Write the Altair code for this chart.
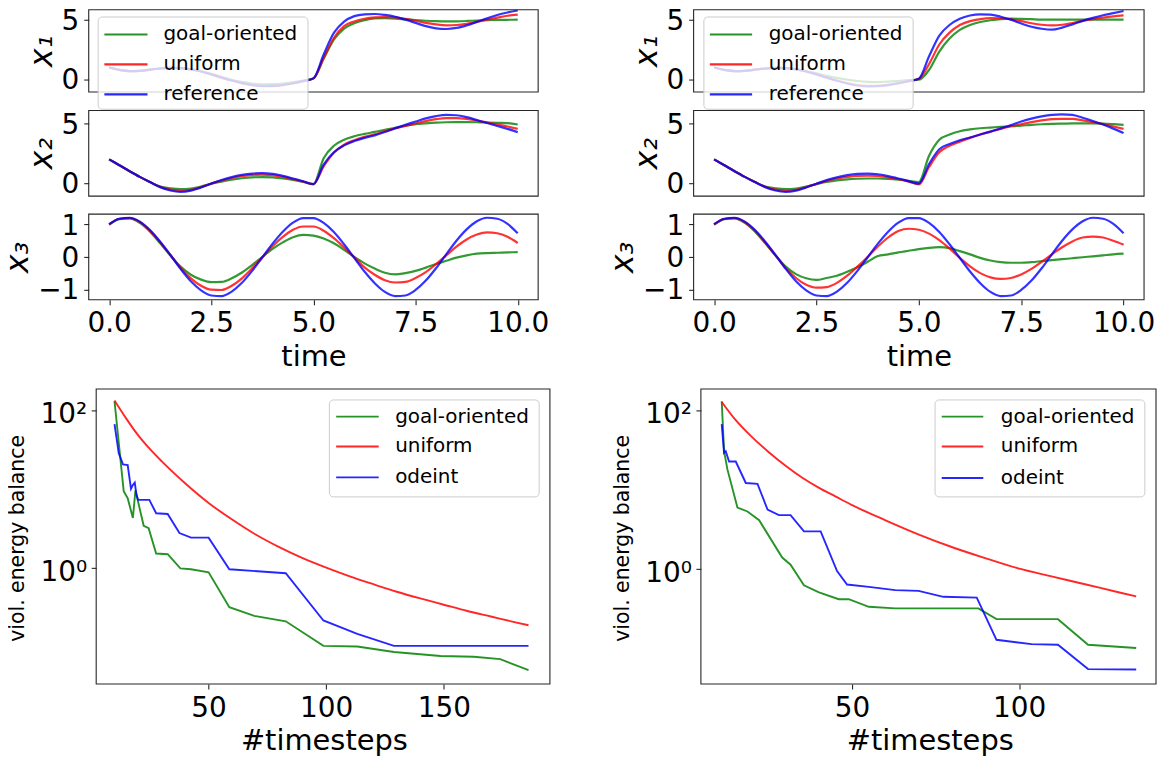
import altair as alt
import pandas as pd

# ---------------- data ----------------
T = [0.0, 0.25, 0.5, 0.75, 1.0, 1.25, 1.5, 1.75, 2.0, 2.25, 2.5, 2.75, 3.0, 3.25,
     3.5, 3.75, 4.0, 4.25, 4.5, 4.75, 5.0, 5.25, 5.5, 5.75, 6.0, 6.25, 6.5, 6.75,
     7.0, 7.25, 7.5, 7.75, 8.0, 8.25, 8.5, 8.75, 9.0, 9.25, 9.5, 9.75, 10.0]

# left column, states x1, x2, x3
L_X1_GOAL = [1.0, 0.8, 0.7, 0.72, 0.82, 0.92, 0.97, 0.95, 0.86, 0.69, 0.47, 0.22, -0.03, -0.22,
             -0.35, -0.42, -0.41, -0.35, -0.25, -0.1, 0.08, 1.75, 3.35, 4.3, 4.75, 5.0, 5.15, 5.17,
             5.14, 5.08, 5.02, 4.96, 4.92, 4.9, 4.91, 4.94, 4.98, 5.01, 5.03, 5.04, 5.05]
L_X1_UNIF = [1.0, 0.8, 0.7, 0.72, 0.82, 0.92, 0.97, 0.95, 0.85, 0.66, 0.42, 0.15, -0.1, -0.33,
             -0.5, -0.58, -0.57, -0.49, -0.35, -0.16, 0.08, 1.8, 3.5, 4.5, 4.9, 5.13, 5.24, 5.27,
             5.24, 5.12, 4.96, 4.78, 4.65, 4.57, 4.6, 4.7, 4.86, 5.05, 5.22, 5.38, 5.47]
L_X1_REF = [1.0, 0.8, 0.7, 0.72, 0.82, 0.92, 0.97, 0.95, 0.85, 0.66, 0.42, 0.15, -0.1, -0.32,
            -0.48, -0.56, -0.55, -0.47, -0.33, -0.15, 0.08, 2.1, 3.93, 4.88, 5.35, 5.5, 5.53, 5.45,
            5.3, 5.05, 4.78, 4.5, 4.32, 4.26, 4.35, 4.57, 4.86, 5.17, 5.45, 5.66, 5.83]

L_X2_GOAL = [2.0, 1.5, 1.0, 0.52, 0.08, -0.3, -0.45, -0.52, -0.47, -0.3, -0.06, 0.12, 0.28, 0.4,
             0.48, 0.5, 0.47, 0.38, 0.25, 0.1, -0.1, 2.1, 3.15, 3.66, 3.95, 4.15, 4.32, 4.5,
             4.66, 4.84, 4.97, 5.05, 5.11, 5.14, 5.15, 5.15, 5.14, 5.12, 5.09, 5.06, 4.95]
L_X2_UNIF = [2.0, 1.5, 1.0, 0.52, 0.08, -0.33, -0.56, -0.66, -0.58, -0.35, -0.05, 0.2, 0.42, 0.58,
             0.68, 0.71, 0.66, 0.52, 0.32, 0.12, -0.1, 1.4, 2.55, 3.24, 3.62, 3.9, 4.12, 4.38,
             4.61, 4.83, 5.03, 5.24, 5.4, 5.49, 5.49, 5.42, 5.28, 5.12, 4.95, 4.78, 4.58]
L_X2_REF = [2.0, 1.5, 1.0, 0.52, 0.08, -0.35, -0.64, -0.75, -0.64, -0.38, -0.05, 0.25, 0.5, 0.68,
            0.8, 0.84, 0.77, 0.6, 0.38, 0.15, -0.1, 1.55, 2.6, 3.18, 3.55, 3.82, 4.03, 4.32,
            4.63, 4.93, 5.2, 5.47, 5.66, 5.76, 5.73, 5.57, 5.33, 5.07, 4.82, 4.58, 4.3]

L_X3_GOAL = [1.0, 1.17, 1.19, 1.05, 0.78, 0.42, 0.04, -0.3, -0.55, -0.7, -0.78, -0.77, -0.66, -0.48,
             -0.25, 0.0, 0.25, 0.45, 0.61, 0.68, 0.66, 0.57, 0.42, 0.22, 0.0, -0.2, -0.36, -0.49,
             -0.54, -0.5, -0.43, -0.33, -0.22, -0.12, -0.02, 0.05, 0.1, 0.12, 0.13, 0.14, 0.15]
L_X3_UNIF = [1.0, 1.18, 1.2, 1.08, 0.81, 0.45, 0.06, -0.34, -0.66, -0.89, -1.01, -1.02, -0.89, -0.66,
             -0.35, -0.01, 0.33, 0.62, 0.84, 0.94, 0.94, 0.81, 0.58, 0.29, -0.02, -0.32, -0.55, -0.72,
             -0.79, -0.77, -0.65, -0.47, -0.22, 0.05, 0.32, 0.54, 0.69, 0.76, 0.73, 0.62, 0.43]
X3_REF = [1.01, 1.18, 1.21, 1.09, 0.83, 0.47, 0.06, -0.37, -0.75, -1.03, -1.19, -1.21, -1.07, -0.8,
          -0.43, -0.01, 0.41, 0.78, 1.06, 1.2, 1.2, 1.05, 0.77, 0.39, -0.03, -0.45, -0.81, -1.08,
          -1.21, -1.19, -1.02, -0.73, -0.35, 0.08, 0.5, 0.85, 1.1, 1.21, 1.18, 1.02, 0.73]

# right column
R_X1_GOAL = [1.0, 0.8, 0.7, 0.72, 0.82, 0.92, 0.97, 0.95, 0.87, 0.7, 0.5, 0.3, 0.12, -0.03,
             -0.14, -0.21, -0.23, -0.2, -0.14, -0.07, -0.03, 0.8, 2.35, 3.45, 4.18, 4.6, 4.85, 5.0,
             5.1, 5.13, 5.12, 5.09, 5.06, 5.05, 5.05, 5.05, 5.05, 5.05, 5.05, 5.05, 5.05]
R_X1_UNIF = [1.0, 0.8, 0.7, 0.72, 0.82, 0.92, 0.97, 0.95, 0.85, 0.66, 0.42, 0.15, -0.1, -0.32,
             -0.48, -0.55, -0.54, -0.46, -0.33, -0.15, 0.05, 1.3, 2.95, 3.95, 4.6, 4.93, 5.1, 5.18,
             5.17, 5.08, 4.92, 4.75, 4.62, 4.57, 4.62, 4.77, 4.95, 5.1, 5.22, 5.33, 5.42]
R_X1_REF = [1.0, 0.8, 0.7, 0.72, 0.82, 0.92, 0.97, 0.95, 0.85, 0.66, 0.42, 0.15, -0.12, -0.35,
            -0.52, -0.6, -0.58, -0.49, -0.34, -0.16, 0.05, 1.95, 3.7, 4.6, 5.12, 5.4, 5.5, 5.48,
            5.3, 5.05, 4.72, 4.45, 4.28, 4.2, 4.38, 4.65, 4.95, 5.2, 5.42, 5.6, 5.78]

R_X2_GOAL = [2.0, 1.5, 1.0, 0.52, 0.08, -0.3, -0.45, -0.52, -0.47, -0.3, -0.1, 0.08, 0.22, 0.31,
             0.36, 0.38, 0.38, 0.35, 0.28, 0.18, 0.08, 2.3, 3.65, 4.1, 4.38, 4.53, 4.63, 4.69,
             4.75, 4.8, 4.85, 4.92, 4.97, 5.0, 5.02, 5.04, 5.05, 5.05, 5.03, 4.98, 4.92]
R_X2_UNIF = [2.0, 1.5, 1.0, 0.52, 0.08, -0.33, -0.56, -0.66, -0.58, -0.35, -0.06, 0.18, 0.38, 0.52,
             0.61, 0.63, 0.6, 0.48, 0.32, 0.12, -0.12, 1.35, 2.6, 3.15, 3.5, 3.82, 4.1, 4.35,
             4.58, 4.8, 4.97, 5.15, 5.3, 5.4, 5.43, 5.42, 5.3, 5.15, 4.98, 4.78, 4.58]
R_X2_REF = [2.0, 1.5, 1.0, 0.52, 0.08, -0.35, -0.64, -0.75, -0.64, -0.38, -0.06, 0.24, 0.48, 0.66,
            0.77, 0.8, 0.74, 0.58, 0.38, 0.16, -0.05, 1.6, 2.85, 3.3, 3.62, 3.85, 4.1, 4.35,
            4.62, 4.9, 5.2, 5.45, 5.64, 5.77, 5.81, 5.76, 5.52, 5.25, 4.95, 4.6, 4.22]

R_X3_GOAL = [1.0, 1.17, 1.19, 1.05, 0.78, 0.42, 0.04, -0.3, -0.53, -0.66, -0.71, -0.65, -0.58, -0.46,
             -0.32, -0.15, 0.03, 0.08, 0.14, 0.19, 0.24, 0.28, 0.3, 0.27, 0.18, 0.08, -0.03, -0.11,
             -0.16, -0.18, -0.18, -0.16, -0.13, -0.1, -0.07, -0.04, -0.01, 0.02, 0.05, 0.08, 0.1]
R_X3_UNIF = [1.0, 1.17, 1.2, 1.07, 0.8, 0.44, 0.05, -0.34, -0.65, -0.86, -0.95, -0.93, -0.8, -0.58,
             -0.3, 0.0, 0.32, 0.6, 0.8, 0.87, 0.84, 0.72, 0.52, 0.26, -0.03, -0.29, -0.5, -0.63,
             -0.68, -0.65, -0.54, -0.37, -0.15, 0.08, 0.3, 0.48, 0.6, 0.63, 0.6, 0.5, 0.38]

# bottom left: violation of energy balance vs #timesteps
BL_GOAL_N = [10, 13.9, 15.6, 17.8, 18.9, 22.4, 24.5, 27.7, 32.6, 38.0, 42.5, 50.0, 58.8, 69.4,
             82.8, 98.8, 113.2, 128.8, 148.6, 162.7, 174.0, 186]
BL_GOAL_V = [128.8, 9.33, 7.59, 4.27, 9.55, 3.39, 3.16, 1.51, 1.48, 0.977, 0.955, 0.871, 0.316,
             0.245, 0.209, 0.102, 0.100, 0.0851, 0.0759, 0.0741, 0.0692, 0.0501]
BL_UNIF_N = [10, 15, 20, 25, 30, 40, 50, 60, 70, 80, 90, 100, 110, 120, 130, 140, 150, 160,
             170, 180, 186]
BL_UNIF_V = [131.8, 77.6, 47.9, 32.0, 22.4, 11.75, 6.61, 4.07, 2.63, 1.82, 1.32, 1.0, 0.776,
             0.617, 0.495, 0.407, 0.339, 0.282, 0.240, 0.204, 0.186]
BL_ODE_N = [10, 11.8, 13.6, 15.6, 17.0, 17.8, 18.6, 19.3, 20.0, 24.8, 27.7, 32.6, 37.6, 42.5,
            50.0, 58.8, 82.8, 98.8, 113.2, 128.8, 186]
BL_ODE_V = [66.1, 28.2, 20.4, 19.95, 10.0, 11.2, 12.0, 8.51, 7.24, 7.24, 4.90, 4.79, 2.75, 2.40,
            2.40, 0.955, 0.851, 0.214, 0.145, 0.102, 0.102]

# bottom right
BR_GOAL_N = [11, 11.7, 12.7, 15.7, 18.7, 22.2, 29.1, 31.6, 35.6, 40.1, 46.0, 49.0, 55.0, 62.9,
             87.8, 93.2, 111.6, 120.6, 135]
BR_GOAL_V = [128.8, 30.2, 17.8, 5.89, 5.25, 4.07, 1.38, 1.12, 0.617, 0.501, 0.412, 0.412, 0.331,
             0.316, 0.316, 0.231, 0.231, 0.110, 0.100]
BR_UNIF_N = [11, 15, 20, 25, 30, 35, 40, 45, 50, 60, 70, 80, 90, 100, 110, 120, 130, 135]
BR_UNIF_V = [125.9, 75.9, 45.7, 29.5, 19.95, 14.1, 10.5, 8.13, 6.31, 4.07, 2.69, 1.86, 1.35, 1.0,
             0.794, 0.631, 0.501, 0.447]
BR_ODE_N = [11, 11.7, 12.2, 13.2, 15.2, 18.2, 21.7, 24.7, 28.1, 31.6, 35.6, 40.6, 45.5, 48.5,
            55.0, 62.9, 69.9, 77.3, 87.3, 93.2, 103.7, 111.6, 120.6, 135]
BR_ODE_V = [66.1, 28.8, 30.2, 22.4, 22.4, 12.0, 11.7, 5.56, 4.73, 4.73, 2.95, 2.95, 0.933, 0.631,
            0.589, 0.537, 0.525, 0.442, 0.432, 0.127, 0.112, 0.110, 0.0543, 0.0537]

TOP_NAMES = ["goal-oriented", "uniform", "reference"]
BOT_NAMES = ["goal-oriented", "uniform", "odeint"]
COLORS = ["green", "red", "blue"]
Y_TITLES = ["x\u2081", "x\u2082", "x\u2083"]
TIME_TICKS = [0, 2.5, 5, 7.5, 10]

# ---------------- styling ----------------
FONT = "DejaVu Sans"
FRAME_COLOR = "#262626"
ONE = pd.DataFrame({"k": [0]})


def frame(x0, x1, y0, y1):
    return alt.Chart(ONE).mark_rect(fillOpacity=0, stroke=FRAME_COLOR, strokeWidth=1.1).encode(
        x=alt.value(x0), x2=alt.value(x1), y=alt.value(y0), y2=alt.value(y1))


def legend(names, box, lx, tx, rows, lw):
    out = [alt.Chart(ONE).mark_rect(fill="white", fillOpacity=0.8, stroke="#cccccc",
                                    strokeWidth=1, cornerRadius=4).encode(
        x=alt.value(box[0]), x2=alt.value(box[1]), y=alt.value(box[2]), y2=alt.value(box[3]))]
    for name, col, ry in zip(names, COLORS, rows):
        d = pd.DataFrame({"label": [name]})
        out.append(alt.Chart(d).mark_rule(color=col, strokeWidth=lw, opacity=0.85).encode(
            x=alt.value(lx[0]), x2=alt.value(lx[1]), y=alt.value(ry)))
        out.append(alt.Chart(d).mark_text(align="left", baseline="middle", font=FONT,
                                          fontSize=20, color="black").encode(
            x=alt.value(tx), y=alt.value(ry), text="label:N"))
    return out


def top_panel(series, ydom, yvals, title, title_x, width, height, xaxis, leg=None):
    rows = []
    for name, vals in zip(TOP_NAMES, series):
        for t, v in zip(T, vals):
            rows.append({"t": t, "value": v, "method": name})
    df = pd.DataFrame(rows)
    x = alt.X("t:Q", scale=alt.Scale(domain=[-0.5, 10.5], nice=False, zero=False), axis=xaxis)
    y = alt.Y("value:Q", scale=alt.Scale(domain=ydom, nice=False, zero=False),
              axis=alt.Axis(values=yvals, title=title, titleX=title_x, titleBaseline="middle",
                            titleFontSize=32, titleFontStyle="italic", labelFontSize=28,
                            labelPadding=5, tickSize=5, labelOffset=1.5))
    base = alt.Chart(df).encode(x=x, y=y)
    layers = [base.transform_filter(alt.datum.method == name).mark_line(
        color=col, strokeWidth=2.2, opacity=0.8, interpolate="monotone")
        for name, col in zip(TOP_NAMES, COLORS)]
    layers.append(frame(0, width, 0, height))
    if leg:
        layers += leg
    return alt.layer(*layers).properties(width=width, height=height)


def time_axis():
    return alt.Axis(values=TIME_TICKS, format=".1f", title="time", titleFontSize=29,
                    titleY=42.5, titleBaseline="top", labelFontSize=28, labelPadding=5,
                    tickSize=5, labelFlush=False)


def bottom_panel(series, xdom, ydom, xticks, width, height, fx0, title_x, leg):
    rows = []
    for name, (ns, vs) in zip(BOT_NAMES, series):
        for n, v in zip(ns, vs):
            rows.append({"n": n, "err": v, "method": name})
    df = pd.DataFrame(rows)
    x = alt.X("n:Q", scale=alt.Scale(domain=xdom, nice=False, zero=False),
              axis=alt.Axis(values=xticks, format="d", title="#timesteps", titleFontSize=29,
                            titleX=title_x, titleY=43, titleBaseline="top", titleAlign="center",
                            labelFontSize=28, labelPadding=6, tickSize=5, labelFlush=False))
    y = alt.Y("err:Q", scale=alt.Scale(type="log", domain=ydom, nice=False),
              axis=alt.Axis(values=[1, 100],
                            labelExpr="datum.value > 10 ? '10\u00b2' : '10\u2070'",
                            title="viol. energy balance", titleFontSize=20.5, titleX=-78.5,
                            titleY=220.9, titleBaseline="middle", offset=-fx0,
                            labelFontSize=28, labelPadding=4.5, tickSize=5, labelOffset=5))
    base = alt.Chart(df).encode(x=x, y=y)
    layers = []
    for name, col in zip(BOT_NAMES, COLORS):
        interp = "monotone" if name == "uniform" else "linear"
        layers.append(base.transform_filter(alt.datum.method == name).mark_line(
            color=col, strokeWidth=1.9, opacity=0.85, interpolate=interp))
    layers.append(frame(fx0, width, 71.5, height))
    layers += leg
    return alt.layer(*layers).properties(width=width, height=height)


WL, WR = 451, 452
H1, H2, H3, HB = 82.5, 86, 86, 367.5
YD1 = [-1.071, 5.885]
YD2 = [-1.113, 6.138]
YD3 = [-1.323, 1.323]

legTL = legend(TOP_NAMES, (9.5, 220, 7.2, 99.8), (15.7, 59), 75, (24.8, 54.8, 84.8), 2.2)
legTR = legend(TOP_NAMES, (10.3, 220.3, 7.2, 99.8), (16.3, 58.7), 75.3, (24.8, 54.8, 84.8), 2.2)

x1L = top_panel([L_X1_GOAL, L_X1_UNIF, L_X1_REF], YD1, [0, 5], Y_TITLES[0], -47, WL, H1, None, legTL)
x1R = top_panel([R_X1_GOAL, R_X1_UNIF, R_X1_REF], YD1, [0, 5], Y_TITLES[0], -47, WR, H1, None, legTR)
x2L = top_panel([L_X2_GOAL, L_X2_UNIF, L_X2_REF], YD2, [0, 5], Y_TITLES[1], -47, WL, H2, None)
x2R = top_panel([R_X2_GOAL, R_X2_UNIF, R_X2_REF], YD2, [0, 5], Y_TITLES[1], -47, WR, H2, None)
x3L = top_panel([L_X3_GOAL, L_X3_UNIF, X3_REF], YD3, [-1, 0, 1], Y_TITLES[2], -71, WL, H3, time_axis())
x3R = top_panel([R_X3_GOAL, R_X3_UNIF, X3_REF], YD3, [-1, 0, 1], Y_TITLES[2], -71, WR, H3, time_axis())

legBL = legend(BOT_NAMES, (241.5, 452, 82.5, 179.8), (248.3, 291), 307.5, (99.2, 129.2, 160.2), 1.9)
legBR = legend(BOT_NAMES, (242.3, 452.8, 82.5, 179.8), (249, 290.7), 308.3, (99.2, 129.2, 160.8), 1.9)

botL = bottom_panel([(BL_GOAL_N, BL_GOAL_V), (BL_UNIF_N, BL_UNIF_V), (BL_ODE_N, BL_ODE_V)],
                    [-0.97, 195.1], [0.03354, 1475], [50, 100, 150], 462.8, HB, 7.5, 236, legBL)
botR = bottom_panel([(BR_GOAL_N, BR_GOAL_V), (BR_UNIF_N, BR_UNIF_V), (BR_ODE_N, BR_ODE_V)],
                    [2.59, 140.93], [0.03527, 1450], [50, 100], 464, HB, 7.3, 237, legBR)

chart = alt.concat(
    x1L, x1R, x2L, x2R, x3L, x3R, botL, botR,
    columns=2,
    spacing=alt.RowColnumber(row=18, column=144),
    bounds="flush",
    align="each",
).properties(
    autosize=alt.AutoSizeParams(type="none"),
    padding={"left": 81, "top": 0.5, "right": 1073, "bottom": 747.5},
).configure(
    font=FONT,
).configure_view(
    strokeWidth=0,
).configure_axis(
    labelFont=FONT, titleFont=FONT, labelColor="black", titleColor="black",
    titleFontWeight="normal", domain=False, grid=False, tickColor=FRAME_COLOR, tickWidth=1.1,
)

chart.save("out.html", embed_options={"renderer": "svg", "actions": False})
